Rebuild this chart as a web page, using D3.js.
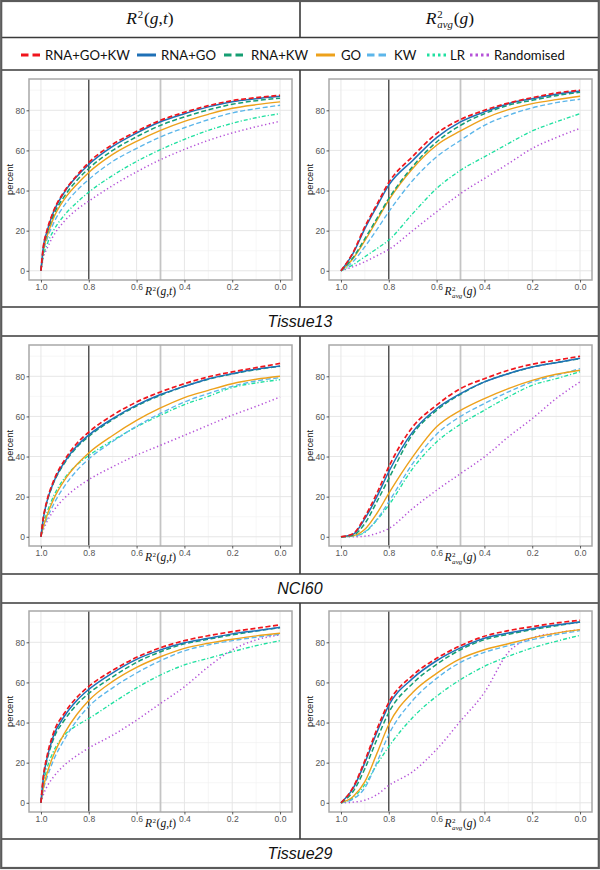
<!DOCTYPE html>
<html><head><meta charset="utf-8">
<script src="https://cdn.jsdelivr.net/npm/d3@7/dist/d3.min.js"></script>
<style>body{margin:0;background:#fff}</style>
</head><body><svg id="c" width="600" height="870"></svg>
<script>
// ---------------- data ----------------
const seriesNames = ["RNA+GO+KW","RNA+GO","RNA+KW","GO","KW","LR","Randomised"];
const rowLabels = ["Tissue13","NCI60","Tissue29"];
const xTicks = [1.0,0.8,0.6,0.4,0.2,0.0];
const yTicks = [0,20,40,60,80];
// thresholds for R^2(g,t) panels and R^2_avg(g) panels
const thrT   = [1.0,0.99,0.975,0.95,0.9,0.85,0.8,0.7,0.6,0.5,0.4,0.3,0.2,0.1,0.0];
const thrAvg = [1.0,0.95,0.9,0.85,0.8,0.7,0.6,0.5,0.4,0.3,0.2,0.1,0.0];

const tissue13_T = [
  [0,12,20,29,40,47.5,54,63,69.5,75,79,82.3,84.8,86.3,87.5],
  [0,12,19.5,28.5,39.5,47,53,62,68.7,74.3,78.3,81.7,84.3,85.8,87],
  [0,11,18.5,27,37.5,45,51,60,66.8,72.5,76.7,80.2,83,84.8,86],
  [0,10,17,25.5,36,43,49,58,64.5,70,74.5,78,81,82.8,84.2],
  [0,9,15.5,23,33,40,45.5,54.5,61,66.7,71.3,75.3,78.7,80.8,82.5],
  [0,7.5,13,19.5,28,34,39.2,47.5,54.5,60.4,65.5,70,73.5,76.3,78.3],
  [0,6.5,11,17,25,30.5,34.7,42.5,49.3,55.4,60.5,65,68.7,71.8,74.5]
];
const tissue13_Avg = [
  [0,9,22,33,44,57,68.4,75.4,80,83.6,86.3,88.6,90],
  [0,8.5,21,32,42.7,55,66.4,74.2,79.2,83.3,85.8,88,89.6],
  [0,6.5,16,26,36,52,64.2,72.5,78.3,82.5,85,87.3,89],
  [0,6,15,25,35.2,51,62.6,69.7,75.9,80.3,83.3,85.3,87],
  [0,4.5,12,20.5,29.4,45,56.8,65,72.5,77.5,81.2,83.8,85.5],
  [0,3,7,11,15.3,28.5,41,50.1,56.8,63.4,69.7,74.2,78.3],
  [0,2,4.5,7.5,10.6,20,29.4,38.5,46,53.4,61,66.4,71]
];
const nci60_T = [
  [0,9.5,18,27,38.5,46.5,52.2,60.6,67.2,72.2,76.3,79.7,82.2,84.3,86.4],
  [0,9.2,17.5,26.3,37.5,45.2,50.7,58.9,65.6,70.9,75,78.7,81.3,83.5,85.1],
  [0,9,17.2,26,37,44.6,50,58.4,65.2,70.5,75,78.5,81.2,83.3,85],
  [0,5,10.5,18,28.5,36,41.8,50.5,58,64.2,69.4,73,76.3,78.5,80],
  [0,4.5,9,15.5,25.5,33,38.8,47.5,55.1,61.5,67.2,71.4,75,77.7,79.3],
  [0,6,12,19.5,29.5,35.8,40.5,48,54.8,60.6,65.9,70,74.4,76.7,78.3],
  [0,3.5,7.5,12.5,19.5,24.5,28.5,34.9,40.7,45.6,50.6,55.6,60.6,65,69.7]
];
const nci60_Avg = [
  [0,1.5,10,21.6,34.9,54.8,65.6,73.9,78.8,83,86,88,90],
  [0,1.2,9,19.9,32.4,52.3,63.9,71.4,77.2,81.3,84.6,86.8,89],
  [0,0.8,6.6,17.4,29,51.1,63,71,77.2,81.3,84.6,86.8,88.8],
  [0,0.5,3.7,11.6,21.6,39.8,54.8,63,68.9,73.9,78,81,83],
  [0,0.3,2.5,8.6,17.4,36.5,51.1,60,66.4,72.2,77.2,80.5,83.8],
  [0,0.3,2.2,8.3,15.8,34,47.3,56.1,63.1,69.7,75.5,78.8,82.3],
  [0,0,0.3,1.7,4.1,14.1,23.2,31.5,39.8,49.8,58.9,68.9,77.2]
];
const tissue29_T = [
  [0,13,23,34,45,52.5,58,66,72.5,77.3,80.8,83.3,85.3,87,88.7],
  [0,12.5,22,32.5,43.5,51,56.5,64.8,71.5,76.2,79.8,82,84.2,85.8,87.5],
  [0,12,21,31,41.5,49,54.5,62.8,70,75.3,79.2,81.5,83.7,85.6,87.3],
  [0,7.5,14.5,23,35,44,51,60.5,67.5,72.8,77,79.5,81.5,83.2,84.5],
  [0,6.5,12.5,20.5,32,41,48,57.3,64.7,70.8,75.7,78.7,80.8,82.5,84],
  [0,9,17,25,34,38.5,42,49.8,57.3,63.7,68.7,72,75.3,78.3,80.8],
  [0,4,8,12.5,19,23.5,27.3,33.7,41.2,49.5,57.8,67.8,76.2,81.2,83.7]
];
const tissue29_Avg = [
  [0,7.5,21,36.5,50,63.5,72,78.3,83,85.8,87.8,89.6,91],
  [0,7,20,35,48.5,62,70.8,77.2,82,84.6,86.8,88.6,90.1],
  [0,5.5,17,31.5,45,59.5,69,76.3,81.3,84,86.3,88.2,90.1],
  [0,3,10.5,24.5,39,55,64.5,71.8,76.3,79.3,82.2,84.6,86.3],
  [0,1.8,7.5,20,34,51,62,70,75,78.3,81.3,83.8,85.8],
  [0,2.5,9,19,28,42.5,53.1,61.4,68,73,77.2,80.5,83.5],
  [0,0.3,1.3,4,8.6,15.5,26.6,40.7,55,75,82.2,84.6,86.3]
];

// ---------------- styles ----------------
const colors = ["#f0151c","#1f70b6","#159e72","#eda11b","#5cb6ea","#1fe0a0","#b552d8"];
const dashes = ["5,2.6",null,"5,2.6",null,"5,2.6","4,2,1.2,2","1.3,2.6"];
const widths = [1.7,1.5,1.5,1.4,1.35,1.35,1.5];
const legendDash = ["7.5,4",null,"7.5,4",null,"7.5,4","2.5,3","2.5,3"];

const svg = d3.select("#c");
const mathFont = "'Liberation Serif','DejaVu Serif',serif";
const sansFont = "'Liberation Sans',Arial,sans-serif";

// math label: R^2(...) or R^2_avg(...)
function mathLabel(parent, cx, cy, size, avg, args) {
  const g = parent.append("g");
  let x = 0;
  function put(str, fs, italic, dy) {
    const t = g.append("text").attr("x", x).attr("y", dy).text(str)
      .attr("font-family", mathFont).attr("font-size", fs)
      .attr("font-style", italic ? "italic" : "normal").attr("fill", "#111");
    return t.node().getComputedTextLength();
  }
  x += put("R", size, true, 0) + size*0.04;
  const w2 = put("2", size*0.62, false, -size*0.38);
  let wa = 0;
  if (avg) wa = put("avg", size*0.62, true, size*0.22);
  x += Math.max(w2, wa) + size*0.05;
  x += put("(", size, false, 0);
  args.forEach((a, i) => {
    if (i > 0) x += put(",", size, false, 0);
    x += put(a, size, true, 0);
  });
  x += put(")", size, false, 0);
  g.attr("transform", `translate(${cx - x/2},${cy + size*0.3})`);
}

// ---------------- table frame ----------------
const lineCol = "#3a3a3a";
const hLines = [37.5, 70, 307, 336, 574, 603, 839];
hLines.forEach(y => svg.append("line").attr("x1",1).attr("x2",599).attr("y1",y).attr("y2",y)
  .attr("stroke",lineCol).attr("stroke-width",1.6));
[[0,37.5],[70,307],[336,574],[603,839]].forEach(([a,b]) =>
  svg.append("line").attr("x1",300).attr("x2",300).attr("y1",a).attr("y2",b)
    .attr("stroke",lineCol).attr("stroke-width",1.6));
svg.append("rect").attr("x",1.2).attr("y",1).attr("width",597.6).attr("height",867)
  .attr("fill","none").attr("stroke","#5a5a5a").attr("stroke-width",2.2);

// headers
mathLabel(svg, 150, 19, 17.5, false, ["g","t"]);
mathLabel(svg, 450, 19, 17.5, true, ["g"]);

// legend
const legY = 55;
const symX = [21,137,224,316,367,427,470];
const txtX = [45,161,251,341,394,450,494];
// pick font size so "RNA+GO+KW" spans ~85px
const probe = svg.append("text").attr("font-family","Lato,'Open Sans',sans-serif").attr("font-size",15).text(seriesNames[0]);
const legFs = 15 * 85 / probe.node().getComputedTextLength();
probe.remove();
seriesNames.forEach((name, i) => {
  svg.append("line").attr("x1",symX[i]).attr("x2",symX[i]+19).attr("y1",legY).attr("y2",legY)
    .attr("stroke",colors[i]).attr("stroke-width",3)
    .attr("stroke-dasharray",legendDash[i]);
  svg.append("text").attr("x",txtX[i]).attr("y",legY).attr("dy","0.35em")
    .attr("font-family","Lato,'Open Sans',sans-serif").attr("font-size",legFs).attr("fill","#111")
    .text(name);
});

// row labels
const rowLabelY = [321.5, 588.5, 853.5];
rowLabels.forEach((l, i) => svg.append("text").attr("x",300).attr("y",rowLabelY[i]).attr("dy","0.35em")
  .attr("text-anchor","middle").attr("font-family",sansFont).attr("font-style","italic")
  .attr("font-size",16).attr("fill","#111").text(l));

// ---------------- panels ----------------
const panelTops = [79, 345, 611];
const panelH = 201;
const panelX = [[29,292],[329,592]];
const panelData = [[tissue13_T, tissue13_Avg],[nci60_T, nci60_Avg],[tissue29_T, tissue29_Avg]];
const thrs = [thrT, thrAvg];

panelData.forEach((rowSets, r) => {
  rowSets.forEach((sets, c) => {
    const [x0, x1] = panelX[c];
    const top = panelTops[r], bot = top + panelH;
    const x = d3.scaleLinear().domain([1.05, -0.05]).range([x0, x1]);
    const y = d3.scaleLinear().domain([-4.6, 95.6]).range([bot, top]);
    const g = svg.append("g");
    const cid = `clip${r}${c}`;
    g.append("clipPath").attr("id",cid).append("rect")
      .attr("x",x0).attr("y",top).attr("width",x1-x0).attr("height",panelH);
    // minor grid
    [0.1,0.3,0.5,0.7,0.9].forEach(v => g.append("line").attr("x1",x(v)).attr("x2",x(v))
      .attr("y1",top).attr("y2",bot).attr("stroke","#f2f2f2").attr("stroke-width",0.7));
    [10,30,50,70,90].forEach(v => g.append("line").attr("y1",y(v)).attr("y2",y(v))
      .attr("x1",x0).attr("x2",x1).attr("stroke","#f2f2f2").attr("stroke-width",0.7));
    // major grid
    xTicks.forEach(v => g.append("line").attr("x1",x(v)).attr("x2",x(v))
      .attr("y1",top).attr("y2",bot).attr("stroke","#e6e6e6").attr("stroke-width",1));
    yTicks.forEach(v => g.append("line").attr("y1",y(v)).attr("y2",y(v))
      .attr("x1",x0).attr("x2",x1).attr("stroke","#e6e6e6").attr("stroke-width",1));
    // reference lines
    g.append("line").attr("x1",x(0.8)).attr("x2",x(0.8)).attr("y1",top).attr("y2",bot)
      .attr("stroke","#404040").attr("stroke-width",1.3);
    g.append("line").attr("x1",x(0.5)).attr("x2",x(0.5)).attr("y1",top).attr("y2",bot)
      .attr("stroke","#c4c4c4").attr("stroke-width",1.8);
    // curves
    const thr = thrs[c];
    const line = d3.line().x((d, i) => x(thr[i])).y(d => y(d)).curve(d3.curveMonotoneX);
    const cg = g.append("g").attr("clip-path",`url(#${cid})`);
    for (let s = sets.length - 1; s >= 0; s--) {
      cg.append("path").attr("d", line(sets[s])).attr("fill","none")
        .attr("stroke",colors[s]).attr("stroke-width",widths[s])
        .attr("stroke-dasharray",dashes[s]);
    }
    // border
    g.append("rect").attr("x",x0).attr("y",top).attr("width",x1-x0).attr("height",panelH)
      .attr("fill","none").attr("stroke","#a8a8a8").attr("stroke-width",1.5);
    // axes
    const ax = g.append("g").attr("transform",`translate(0,${bot})`)
      .call(d3.axisBottom(x).tickValues(xTicks).tickFormat(d3.format(".1f")).tickSize(2.5).tickPadding(1.5));
    const ay = g.append("g").attr("transform",`translate(${x0},0)`)
      .call(d3.axisLeft(y).tickValues(yTicks).tickSize(2.5).tickPadding(1.5));
    [ax, ay].forEach(a => {
      a.select(".domain").remove();
      a.selectAll(".tick line").attr("stroke","#333").attr("stroke-width",0.8);
      a.selectAll(".tick text").attr("font-family",sansFont).attr("font-size",8.6).attr("fill","#555");
    });
    // axis titles
    g.append("text").attr("transform",`translate(${x0-16},${(top+bot)/2}) rotate(-90)`)
      .attr("text-anchor","middle").attr("font-family",sansFont).attr("font-size",9.3)
      .attr("fill","#111").text("percent");
    mathLabel(g, (x0+x1)/2, bot + 12, 11.5, c === 1, c === 1 ? ["g"] : ["g","t"]);
  });
});
</script>
</body></html>
